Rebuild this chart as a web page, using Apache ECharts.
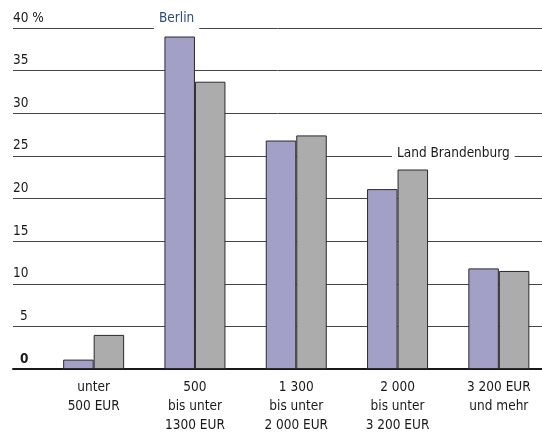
<!DOCTYPE html>
<html>
<head>
<meta charset="utf-8">
<script src="https://cdn.jsdelivr.net/npm/echarts@6/dist/echarts.min.js"></script>
<style>
  html, body { margin: 0; padding: 0; background: #fff; }
  #chart { width: 542px; height: 435px; }
</style>
</head>
<body>
<div id="chart"></div>
<script>
// Einkommensklassen
const categories = [
    'unter\n500 EUR',
    '500\nbis unter\n1300 EUR',
    '1 300\nbis unter\n2 000 EUR',
    '2 000\nbis unter\n3 200 EUR',
    '3 200 EUR\nund mehr'
];
// Anteile in %
const berlin = [1.1, 39.0, 26.8, 21.1, 11.8];
const brandenburg = [4.0, 33.7, 27.4, 23.4, 11.5];
// Skala
const yMin = 0;
const yMax = 40;
const yStep = 5;

const FONT = "'Liberation Sans Narrow', 'DejaVu Sans Condensed', sans-serif";
const FS = 13.5;

const chart = echarts.init(document.getElementById('chart'));

const option = {
    animation: false,
    textStyle: { fontFamily: FONT },
    grid: [
        // Gitterlinien und Beschriftung der y-Achse
        { left: 13, right: 0, top: 28, bottom: 66, outerBoundsMode: 'none' },
        // Balken (Kategorien reichen etwas über den rechten Rand hinaus)
        { left: 43, width: 506.5, top: 28, bottom: 66, outerBoundsMode: 'none' }
    ],
    xAxis: [
        {
            gridIndex: 0,
            type: 'value',
            min: 0,
            max: 1,
            axisLine: { show: true, onZero: false, lineStyle: { color: '#1a1a1a', width: 2 } },
            axisTick: { show: false },
            axisLabel: { show: false },
            splitLine: { show: false }
        },
        {
            gridIndex: 1,
            type: 'category',
            data: categories,
            axisLine: { show: false },
            axisTick: { show: false },
            axisLabel: {
                interval: 0,
                margin: 9,
                color: '#1a1a1a',
                fontFamily: FONT,
                fontSize: FS,
                lineHeight: 19
            }
        }
    ],
    yAxis: [
        {
            gridIndex: 0,
            type: 'value',
            min: yMin,
            max: yMax,
            interval: yStep,
            axisLine: { show: false },
            axisTick: { show: false },
            splitLine: { lineStyle: { color: '#444', width: 1 } },
            axisLabel: {
                inside: true,
                margin: 0,
                verticalAlign: 'bottom',
                padding: [0, 0, 3, 0],
                color: '#1a1a1a',
                fontFamily: FONT,
                fontSize: FS,
                formatter: function (v) {
                    if (v === yMax) return v + ' %';
                    if (v === 0) return '{z|0}';
                    if (v < 10) return '{d|' + v + '}';
                    return String(v);
                },
                rich: {
                    z: { fontFamily: FONT, fontSize: FS, fontWeight: 'bold', color: '#1a1a1a', padding: [0, 0, 0, 7] },
                    d: { fontFamily: FONT, fontSize: FS, color: '#1a1a1a', padding: [0, 0, 0, 7] }
                }
            }
        },
        {
            gridIndex: 1,
            type: 'value',
            min: yMin,
            max: yMax,
            interval: yStep,
            show: false,
            splitLine: { show: false }
        }
    ],
    series: [
        {
            name: 'Berlin',
            type: 'bar',
            xAxisIndex: 1,
            yAxisIndex: 1,
            data: berlin,
            barWidth: 30.5,
            barGap: '0%',
            itemStyle: { color: '#a2a0c7', borderColor: '#2a2a2a', borderWidth: 1 }
        },
        {
            name: 'Land Brandenburg',
            type: 'bar',
            xAxisIndex: 1,
            yAxisIndex: 1,
            data: brandenburg,
            barWidth: 30.5,
            barGap: '0%',
            itemStyle: { color: '#acacac', borderColor: '#2a2a2a', borderWidth: 1 }
        }
    ],
    // Reihenbeschriftungen, unterbrechen die Gitterlinien
    graphic: [
        {
            type: 'text',
            left: 154,
            top: 8,
            z: 100,
            style: {
                text: 'Berlin',
                fill: '#2b4c8c',
                font: FS + 'px ' + FONT,
                backgroundColor: '#fff',
                padding: [3, 5, 6, 5]
            }
        },
        {
            type: 'text',
            left: 392,
            top: 143,
            z: 100,
            style: {
                text: 'Land Brandenburg',
                fill: '#1a1a1a',
                font: FS + 'px ' + FONT,
                backgroundColor: '#fff',
                padding: [3, 5, 4, 5]
            }
        }
    ]
};

chart.setOption(option);

window.addEventListener('resize', function () {
    chart.resize();
});
</script>
</body>
</html>
